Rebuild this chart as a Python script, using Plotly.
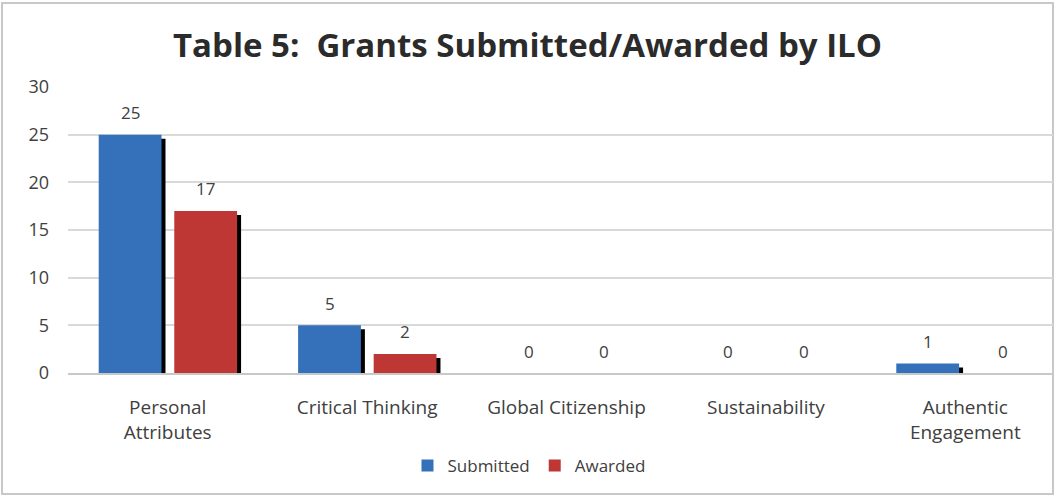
import plotly.graph_objects as go

categories = ["Personal<br>Attributes", "Critical Thinking", "Global Citizenship",
              "Sustainability", "Authentic<br>Engagement"]
submitted = [25, 5, 0, 0, 1]
awarded = [17, 2, 0, 0, 0]
series_names = ["Submitted", "Awarded"]
y_ticks = [0, 5, 10, 15, 20, 25, 30]

BLUE = "#3571bb"
RED = "#be3734"
TEXT = "#404040"
FONT = "'Open Sans', Lato, sans-serif"

bar_w = 0.315
offsets = [-0.346, 0.033]
shadow_dx = 0.02
shadow_dy = 0.42

fig = go.Figure()

idx = list(range(len(categories)))
series = [submitted, awarded]
colors = [BLUE, RED]

# shadows
for vals, off in zip(series, offsets):
    fig.add_trace(go.Bar(
        x=idx, y=[max(v - shadow_dy, 0) for v in vals],
        offset=off + shadow_dx, width=bar_w,
        marker=dict(color="black", line=dict(width=0)),
        showlegend=False, hoverinfo="skip"))

for name, vals, off, col in zip(series_names, series, offsets, colors):
    fig.add_trace(go.Bar(
        x=idx, y=vals, name=name,
        offset=off, width=bar_w,
        marker=dict(color=col, line=dict(width=0))))
    for i, v in zip(idx, vals):
        fig.add_annotation(x=i + off + bar_w / 2, y=v, text=str(v),
                           showarrow=False, yshift=22,
                           font=dict(family=FONT, size=17, color=TEXT))

fig.update_layout(
    width=1055, height=497,
    barmode="overlay",
    paper_bgcolor="white", plot_bgcolor="white",
    margin=dict(l=68, r=2, t=87, b=124),
    font=dict(family=FONT, size=18, color=TEXT),
    title=dict(text="<b>Table 5:  Grants Submitted/Awarded by ILO</b>",
               x=0.5, xanchor="center", y=1 - 45 / 497, yanchor="middle",
               yref="container",
               font=dict(family=FONT, size=33, color="#2b2b2b")),
    legend=dict(orientation="h", x=0.468, xanchor="center", y=-0.325,
                yanchor="middle", font=dict(size=17, color=TEXT),
                itemwidth=30, traceorder="normal"),
    xaxis=dict(range=[-0.5, 4.44], tickmode="array", tickvals=idx,
               ticktext=categories, showgrid=False, ticks="",
               tickfont=dict(size=19),
               showline=True, linecolor="#c8c8c8", linewidth=2,
               ticklabelstandoff=16, zeroline=False),
    yaxis=dict(range=[0, 30], tickmode="array", tickvals=y_ticks,
               showgrid=True, gridcolor="#d9d9d9", gridwidth=2,
               zeroline=False, showline=False, ticks="",
               ticklabelstandoff=18),
    shapes=[dict(type="rect", xref="paper", yref="paper",
                 x0=(2 - 68) / 985, x1=1.0, y0=(373 - 494) / 286, y1=(373 - 3) / 286,
                 line=dict(color="#c8c8c8", width=2), layer="below")],
)

fig.write_html("out.html",
               config={"displayModeBar": False},
               post_script="document.documentElement.style.margin='0';"
                           "document.body.style.margin='0';")
